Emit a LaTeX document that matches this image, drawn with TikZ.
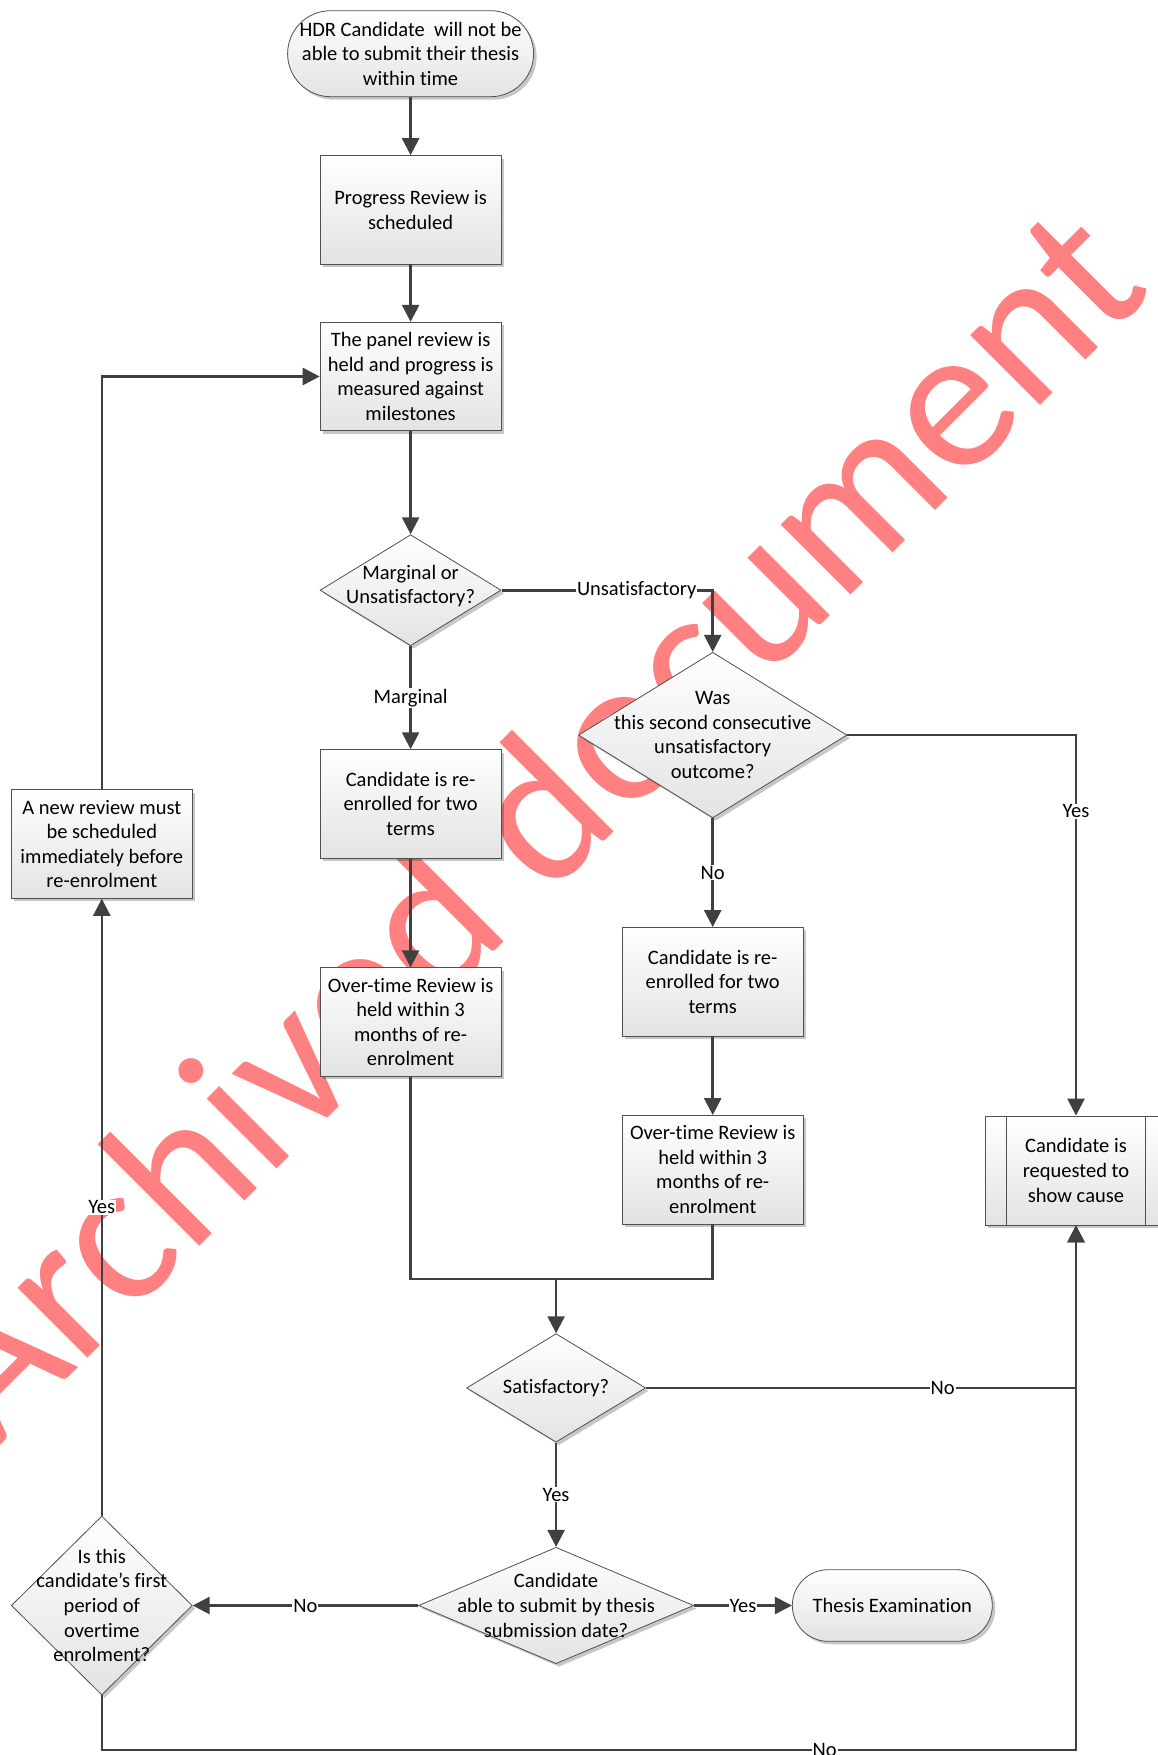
\documentclass[tikz,border=0pt]{standalone}
\usepackage{fontspec}
\setmainfont{Carlito}[Ligatures=NoCommon]
\usetikzlibrary{shapes.geometric,shadows,arrows.meta,calc}
\definecolor{wmred}{RGB}{255,128,128}
\definecolor{linegray}{RGB}{64,64,64}
\definecolor{boxgray}{RGB}{80,80,80}
\begin{document}
\begin{tikzpicture}[x=1pt,y=-1pt,
  txt/.style={font=\fontsize{20.5}{24.6}\selectfont},
  base/.style={txt, draw=boxgray, line width=0.8pt, top color=white, bottom color=black!11,
     drop shadow={shadow xshift=3pt, shadow yshift=-3pt, opacity=0.22, fill=black},
     align=center, inner sep=0pt},
  boxst/.style={base, rectangle, minimum width=181pt, minimum height=108.5pt},
  term/.style={base, rectangle, rounded corners=#1},
  dia/.style={base, diamond},
  conn/.style={draw=linegray, line width=2.6pt},
  arr/.style={conn, -{Triangle[width=17pt,length=17pt]}},
  lab/.style={txt, fill=white, inner sep=1pt}
]
\useasboundingbox (0,0) rectangle (1158,1755);

% watermark (background)
\node[rotate=45, anchor=base west, inner sep=0pt, text=wmred,
      font=\fontsize{207}{240}\selectfont] (wm) at (-6,1452) {Archived document};

% nodes
\node[term=43pt, minimum width=246pt, minimum height=86pt] (start) at (410.6,53.7)
  {HDR Candidate\ \ will not be\\able to submit their thesis\\within time};
\node[boxst] (prog) at (410.6,209.8) {Progress Review is\\scheduled};
\node[boxst] (panel) at (410.6,376.5) {The panel review is\\held and progress is\\measured against\\milestones};
\node[dia, minimum width=181pt, minimum height=111pt] (q1) at (410.6,590.2) {};
\node[txt, align=center] (q1t) at (410.6,586) {Marginal or\\Unsatisfactory?};
\node[boxst] (reL) at (410.6,803.9) {Candidate is re-\\enrolled for two\\terms};
\node[boxst] (otL) at (410.6,1022) {Over-time Review is\\held within 3\\months of re-\\enrolment};
\node[dia, minimum width=268.5pt, minimum height=165.6pt] (q2) at (712.7,735.1) {};
\node[txt, align=center] (q2t) at (712.7,735.1) {Was\\this second consecutive\\unsatisfactory\\outcome?};
\node[boxst] (reR) at (712.7,981.7) {Candidate is re-\\enrolled for two\\terms};
\node[boxst] (otR) at (712.7,1169.7) {Over-time Review is\\held within 3\\months of re-\\enrolment};
\node[boxst, minimum width=182pt, minimum height=109pt] (show) at (1076,1170.5) {Candidate is\\requested to\\show cause};
\draw[draw=boxgray, line width=0.8pt] ($(show.north west)+(21.7,0)$) -- ($(show.south west)+(21.7,0)$);
\draw[draw=boxgray, line width=0.8pt] ($(show.north east)+(-21.7,0)$) -- ($(show.south east)+(-21.7,0)$);
\node[dia, minimum width=179pt, minimum height=108.5pt] (q3) at (556.1,1387.9) {};
\node[txt, align=center] (q3t) at (556.1,1387.9) {Satisfactory?};
\node[dia, minimum width=275pt, minimum height=116.4pt] (q4) at (556.1,1605.5) {};
\node[txt, align=center] (q4t) at (556.1,1605.5) {Candidate\\able to submit by thesis\\submission date?};
\node[term=35.8pt, minimum width=200pt, minimum height=71.6pt] (thesis) at (892.3,1605.5) {Thesis Examination};
\node[dia, minimum width=181pt, minimum height=179pt] (q5) at (101.8,1605.5) {};
\node[txt, align=center] (q5t) at (101.8,1605.5) {Is this\\candidate’s first\\period of\\overtime\\enrolment?};
\node[boxst] (newrev) at (101.8,844.1) {A new review must\\be scheduled\\immediately before\\re-enrolment};

\coordinate (m) at (556.1,1278.8);
\coordinate (cu) at (712.7,590.2);
\coordinate (cy) at (1076,735.1);
\coordinate (cn) at (1076,1387.9);
\coordinate (cl) at (101.8,376.5);
\coordinate (bl) at (101.8,1750);
\coordinate (br) at (1076,1750);
\coordinate (ml) at (410.6,1278.8);
\coordinate (mr) at (712.7,1278.8);

% connectors
\draw[arr] (start) -- (prog);
\draw[arr] (prog) -- (panel);
\draw[arr] (panel) -- (q1);
\draw[arr] (q1.south) -- node[lab]{Marginal} (reL.north);
\draw[arr] (q1.east) -- node[lab, pos=0.64]{Unsatisfactory} (cu) -- (q2.north);
\draw[arr] (reL) -- (otL);
\draw[arr] (q2.south) -- node[lab]{No} (reR.north);
\draw[arr] (reR) -- (otR);
\draw[arr] (q2.east) -- (cy) -- node[lab, pos=0.2]{Yes} (show.north);
\draw[conn] (otL.south) -- (ml) -- (mr) -- (otR.south);
\draw[arr] (m) -- (q3.north);
\draw[arr] (q3.east) -- node[lab, pos=0.69]{No} (cn) -- (show.south);
\draw[arr] (q3.south) -- node[lab]{Yes} (q4.north);
\draw[arr] (q4.east) -- node[lab]{Yes} (thesis.west);
\draw[arr] (q4.west) -- node[lab]{No} (q5.east);
\draw[arr] (q5.north) -- node[lab]{Yes} (newrev.south);
\draw[arr] (newrev.north) -- (cl) -- (panel.west);
\draw[arr] (q5.south) -- (bl) -- node[lab, pos=0.742]{No} (br) -- (show.south);
\end{tikzpicture}
\end{document}
